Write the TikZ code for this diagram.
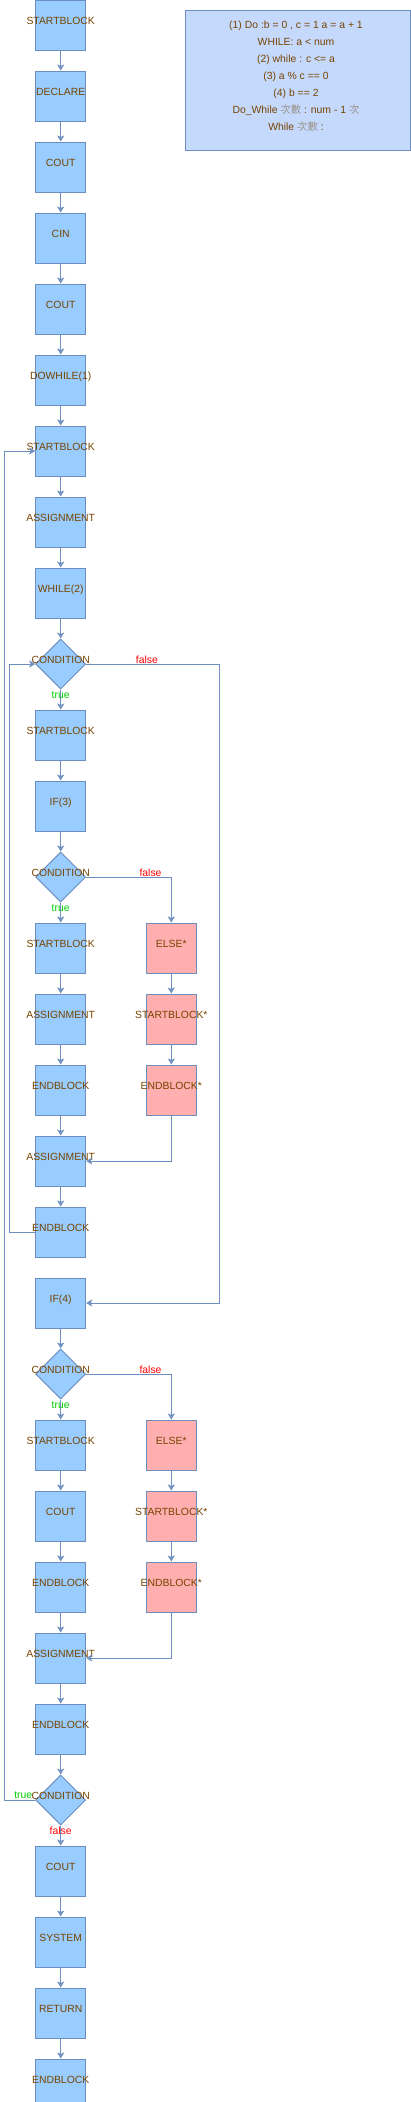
\documentclass[tikz,border=0pt]{standalone}
\usepackage{fontspec}
\setmainfont{Liberation Sans}
\newfontfamily\cjk{Noto Sans CJK TC}
\usetikzlibrary{arrows.meta,positioning,shapes.geometric}

\definecolor{boxblue}{HTML}{99CCFF}
\definecolor{boxline}{HTML}{6C8EBF}
\definecolor{elsered}{HTML}{FFAFAF}
\definecolor{notefill}{HTML}{C5D9FD}
\definecolor{txtbrown}{HTML}{774400}
\definecolor{cjkgray}{HTML}{9A928A}
\definecolor{tipfill}{HTML}{8FA8D6}
\definecolor{truegreen}{HTML}{00CC00}

\newcommand{\boxtext}[1]{\makebox[0pt]{#1}}
\newcommand{\zh}[1]{{\cjk\color{cjkgray}#1}}

\begin{document}
\begin{tikzpicture}[x=1pt,y=1pt,node distance=20pt,
    font=\fontsize{10.4}{12}\selectfont,
    >={Stealth[width=7pt,length=6pt,inset=1.5pt,fill=tipfill]},
    every edge/.style={draw,color=boxline,line width=1pt}]
  \tikzstyle{block}=[draw=boxline,fill=boxblue,line width=1pt,minimum width=50pt,minimum height=50pt,
                     inner sep=0pt,text=txtbrown,text height=0pt,text depth=2pt]
  \tikzstyle{elseblock}=[block,fill=elsered]
  \tikzstyle{cond}=[block,diamond]
  \tikzstyle{flow}=[color=boxline,line width=1pt]
  \tikzstyle{truetxt}=[text=truegreen,inner sep=0pt]
  \tikzstyle{falsetxt}=[text=red,inner sep=0pt]

  \useasboundingbox (0,0) rectangle (411,-2102);

  % main column
  \node[block] (s1) at (60.7,-25) {\boxtext{STARTBLOCK}};
  \node[block] (dcl)   [below=of s1]    {\boxtext{DECLARE}};
  \node[block] (cout1) [below=of dcl]   {\boxtext{COUT}};
  \node[block] (cin)   [below=of cout1] {\boxtext{CIN}};
  \node[block] (cout2) [below=of cin]   {\boxtext{COUT}};
  \node[block] (dowh)  [below=of cout2] {\boxtext{DOWHILE(1)}};
  \node[block] (s2)    [below=of dowh]  {\boxtext{STARTBLOCK}};
  \node[block] (asg1)  [below=of s2]    {\boxtext{ASSIGNMENT}};
  \node[block] (wh)    [below=of asg1]  {\boxtext{WHILE(2)}};
  \node[cond]  (c1)    [below=of wh]    {\boxtext{CONDITION}};
  \node[block] (s3)    [below=of c1]    {\boxtext{STARTBLOCK}};
  \node[block] (if3)   [below=of s3]    {\boxtext{IF(3)}};
  \node[cond]  (c2)    [below=of if3]   {\boxtext{CONDITION}};
  \node[block] (s4)    [below=of c2]    {\boxtext{STARTBLOCK}};
  \node[block] (asg2)  [below=of s4]    {\boxtext{ASSIGNMENT}};
  \node[block] (e1)    [below=of asg2]  {\boxtext{ENDBLOCK}};
  \node[block] (asg3)  [below=of e1]    {\boxtext{ASSIGNMENT}};
  \node[block] (e2)    [below=of asg3]  {\boxtext{ENDBLOCK}};
  \node[block] (if4)   [below=of e2]    {\boxtext{IF(4)}};
  \node[cond]  (c3)    [below=of if4]   {\boxtext{CONDITION}};
  \node[block] (s5)    [below=of c3]    {\boxtext{STARTBLOCK}};
  \node[block] (cout3) [below=of s5]    {\boxtext{COUT}};
  \node[block] (e3)    [below=of cout3] {\boxtext{ENDBLOCK}};
  \node[block] (asg4)  [below=of e3]    {\boxtext{ASSIGNMENT}};
  \node[block] (e4)    [below=of asg4]  {\boxtext{ENDBLOCK}};
  \node[cond]  (c4)    [below=of e4]    {\boxtext{CONDITION}};
  \node[block] (cout4) [below=of c4]    {\boxtext{COUT}};
  \node[block] (sys)   [below=of cout4] {\boxtext{SYSTEM}};
  \node[block] (ret)   [below=of sys]   {\boxtext{RETURN}};
  \node[block] (e5)    [below=of ret]   {\boxtext{ENDBLOCK}};

  % else branches
  \node[elseblock] (el1) [right=59.6pt of s4] {\boxtext{ELSE*}};
  \node[elseblock] (sb1) [below=of el1]       {\boxtext{STARTBLOCK*}};
  \node[elseblock] (eb1) [below=of sb1]       {\boxtext{ENDBLOCK*}};
  \node[elseblock] (el2) [right=59.6pt of s5] {\boxtext{ELSE*}};
  \node[elseblock] (sb2) [below=of el2]       {\boxtext{STARTBLOCK*}};
  \node[elseblock] (eb2) [below=of sb2]       {\boxtext{ENDBLOCK*}};

  % note
  \node[draw=boxline,fill=notefill,line width=1pt,minimum width=225.4pt,minimum height=139.7pt]
    (note) at (298,-80.2) {};
  \node[text=txtbrown,align=center,font=\fontsize{10.4}{17}\selectfont] (notetext) at (296,-76.3)
    {(1) Do :b = 0 , c = 1 a = a + 1\\
     WHILE: a < num\\
     (2) while : c <= a\\
     (3) a \% c == 0\\
     (4) b == 2\\
     Do\_While \zh{次數} : num - 1 \zh{次}\\
     While \zh{次數} :};

  \path[->]
  (s1)    edge (dcl)
  (dcl)   edge (cout1)
  (cout1) edge (cin)
  (cin)   edge (cout2)
  (cout2) edge (dowh)
  (dowh)  edge (s2)
  (s2)    edge (asg1)
  (asg1)  edge (wh)
  (wh)    edge (c1)
  (c1)    edge node[truetxt,at start,anchor=base,yshift=-8.5pt] (t1) {true} (s3)
  (s3)    edge (if3)
  (if3)   edge (c2)
  (c2)    edge node[truetxt,at start,anchor=base,yshift=-8.5pt] (t2) {true} (s4)
  (s4)    edge (asg2)
  (asg2)  edge (e1)
  (e1)    edge (asg3)
  (asg3)  edge (e2)
  (if4)   edge (c3)
  (c3)    edge node[truetxt,at start,anchor=base,yshift=-8.5pt] (t3) {true} (s5)
  (s5)    edge (cout3)
  (cout3) edge (e3)
  (e3)    edge (asg4)
  (asg4)  edge (e4)
  (e4)    edge (c4)
  (c4)    edge node[falsetxt,at start,anchor=base,yshift=-8.5pt] (f4) {false} (cout4)
  (cout4) edge (sys)
  (sys)   edge (ret)
  (ret)   edge (e5)
  (el1)   edge (sb1)
  (sb1)   edge (eb1)
  (el2)   edge (sb2)
  (sb2)   edge (eb2);

  % branches and loops
  \draw[->,flow] (c1.east) -- node[falsetxt,pos=0.456,anchor=base,yshift=1pt] (f1) {false}
                 ++(133,0) |- (if4.east);
  \draw[->,flow] (c2.east) -| node[falsetxt,pos=0.378,anchor=base,yshift=1pt] (f2) {false} (el1.north);
  \draw[->,flow] (c3.east) -| node[falsetxt,pos=0.378,anchor=base,yshift=1pt] (f3) {false} (el2.north);
  \draw[->,flow] (eb1.south) |- (asg3.east);
  \draw[->,flow] (eb2.south) |- (asg4.east);
  \draw[->,flow] (e2.west) -- ++(-25.3,0) |- (c1.west);
  \draw[->,flow] (c4.west) node[truetxt,anchor=base east,xshift=-2.5pt,yshift=1.3pt] (t4) {true}
                 -- ++(-30.7,0) |- (s2.west);
\end{tikzpicture}
\end{document}
